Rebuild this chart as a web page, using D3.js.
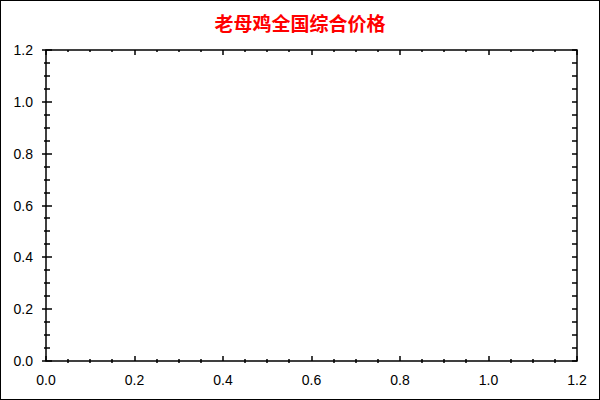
<!DOCTYPE html>
<html lang="zh">
<head>
<meta charset="UTF-8">
<title>老母鸡全国综合价格</title>
<script src="https://d3js.org/d3.v7.min.js"></script>
<style>
    body { margin: 0; background: #fff; }
    svg { display: block; }
    .tick-label { font-family: "Liberation Sans", Arial, sans-serif; font-size: 14px; fill: #000; }
    .title { font-family: "Noto Sans CJK SC", sans-serif; font-size: 19px; font-weight: bold; fill: #ff0000; }
</style>
</head>
<body>
<div id="chart"></div>
<script>
// chart content
const chartTitle = "老母鸡全国综合价格";
const xDomain = [0, 1.2];
const yDomain = [0, 1.2];
const xTicks = [0, 0.2, 0.4, 0.6, 0.8, 1.0, 1.2];
const yTicks = [0, 0.2, 0.4, 0.6, 0.8, 1.0, 1.2];
const minorStep = 0.05;

const width = 600, height = 400;
const margin = { top: 50, right: 23, bottom: 39, left: 46 };

const svg = d3.select("#chart").append("svg")
    .attr("width", width)
    .attr("height", height);

// outer frame
svg.append("rect")
    .attr("x", 0.5).attr("y", 0.5)
    .attr("width", width - 1).attr("height", height - 1)
    .attr("fill", "#fff").attr("stroke", "#000");

const x = d3.scaleLinear().domain(xDomain).range([margin.left, width - margin.right]);
const y = d3.scaleLinear().domain(yDomain).range([height - margin.bottom, margin.top]);

const x0 = x.range()[0], x1 = x.range()[1];
const y0 = y.range()[0], y1 = y.range()[1];

// minor tick values
const minorX = d3.range(xDomain[0], xDomain[1] + 1e-9, minorStep).filter(v => !xTicks.some(t => Math.abs(t - v) < 1e-9));
const minorY = d3.range(yDomain[0], yDomain[1] + 1e-9, minorStep).filter(v => !yTicks.some(t => Math.abs(t - v) < 1e-9));

const g = svg.append("g").attr("stroke", "#000").attr("stroke-width", 1.5).attr("fill", "none");

// plot box
g.append("rect")
    .attr("x", x0).attr("y", y1)
    .attr("width", x1 - x0).attr("height", y0 - y1);

// left ticks
g.selectAll(".ly").data(yTicks).join("line")
    .attr("x1", x0 - 4).attr("x2", x0 + 6)
    .attr("y1", d => Math.round(y(d))).attr("y2", d => Math.round(y(d)));
g.selectAll(".lym").data(minorY).join("line")
    .attr("x1", x0 - 2).attr("x2", x0 + 4)
    .attr("y1", d => Math.round(y(d))).attr("y2", d => Math.round(y(d)));

// right ticks
g.selectAll(".ry").data(yTicks.concat(minorY)).join("line")
    .attr("x1", x1 - 5).attr("x2", x1)
    .attr("y1", d => Math.round(y(d))).attr("y2", d => Math.round(y(d)));

// bottom ticks
g.selectAll(".bx").data(xTicks).join("line")
    .attr("x1", d => Math.round(x(d))).attr("x2", d => Math.round(x(d)))
    .attr("y1", y0 - 5).attr("y2", y0);
g.selectAll(".bxm").data(minorX).join("line")
    .attr("x1", d => Math.round(x(d))).attr("x2", d => Math.round(x(d)))
    .attr("y1", y0 - 2).attr("y2", y0 + 2);

// top ticks
g.selectAll(".tx").data(xTicks).join("line")
    .attr("x1", d => Math.round(x(d))).attr("x2", d => Math.round(x(d)))
    .attr("y1", y1).attr("y2", y1 + 5);
g.selectAll(".txm").data(minorX).join("line")
    .attr("x1", d => Math.round(x(d))).attr("x2", d => Math.round(x(d)))
    .attr("y1", y1).attr("y2", y1 + 2);

const fmt = d3.format(".1f");

// y labels
svg.selectAll(".ylab").data(yTicks).join("text")
    .attr("class", "tick-label")
    .attr("x", x0 - 13)
    .attr("y", d => y(d) + 5)
    .attr("text-anchor", "end")
    .text(fmt);

// x labels
svg.selectAll(".xlab").data(xTicks).join("text")
    .attr("class", "tick-label")
    .attr("x", d => x(d))
    .attr("y", y0 + 24)
    .attr("text-anchor", "middle")
    .text(fmt);

// title
svg.append("text")
    .attr("class", "title")
    .attr("x", width / 2)
    .attr("y", 31)
    .attr("text-anchor", "middle")
    .text(chartTitle);
</script>
</body>
</html>
